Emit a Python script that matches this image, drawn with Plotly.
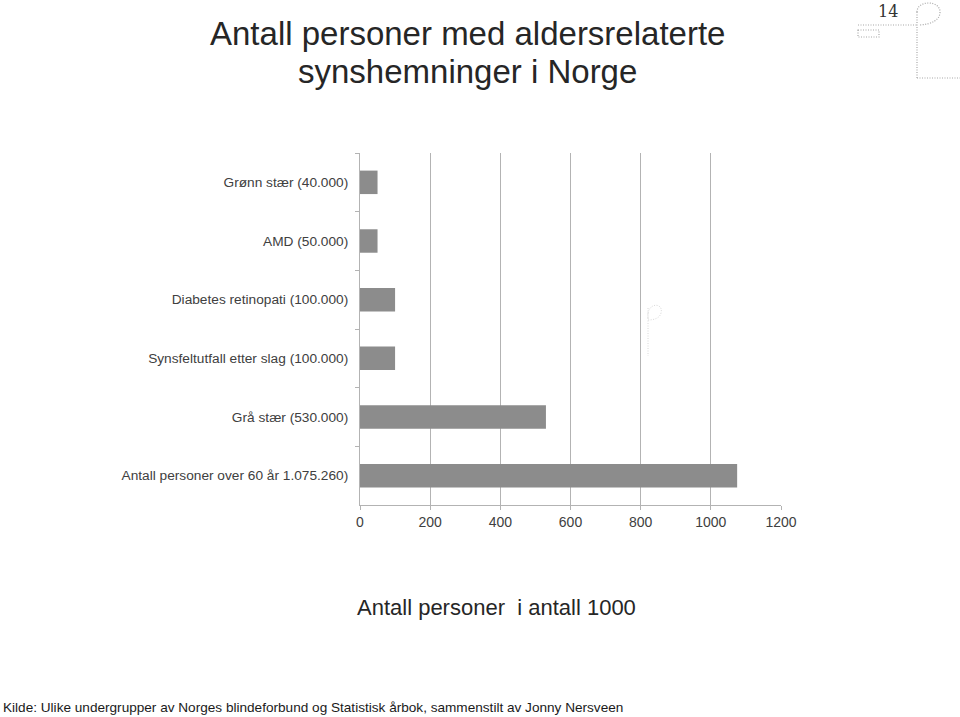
import plotly.graph_objects as go

# data (antall personer, i 1000)
kategorier = [
    "Grønn stær (40.000)",
    "AMD (50.000)",
    "Diabetes retinopati (100.000)",
    "Synsfeltutfall etter slag (100.000)",
    "Grå stær (530.000)",
    "Antall personer over 60 år 1.075.260)",
]
verdier = [50, 50, 100, 100, 530, 1075]
x_ticks = [0, 200, 400, 600, 800, 1000, 1200]

W, H = 960, 717
ML, MR, MT, MB = 360, 179, 153, 212
PW, PH = W - ML - MR, H - MT - MB


def fx(px):
    return (px - ML) / PW


def fy(py):
    return (H - MB - py) / PH


fig = go.Figure()
fig.add_trace(go.Bar(
    x=verdier, y=kategorier, orientation="h",
    marker=dict(color="#8c8c8c", line=dict(width=0)),
    hoverinfo="x+y",
))

grey = "#404040"
fig.update_layout(
    width=W, height=H,
    margin=dict(l=ML, r=MR, t=MT, b=MB),
    plot_bgcolor="white", paper_bgcolor="white",
    font=dict(family="Liberation Sans, Arial", color=grey, size=13),
    bargap=0.6,
    showlegend=False,
    xaxis=dict(
        range=[0, 1200], tickvals=x_ticks, showgrid=True,
        gridcolor="#b3b3b3", gridwidth=1,
        showline=True, linecolor="#b3b3b3", ticks="outside",
        ticklen=4, tickcolor="#b3b3b3", zeroline=False,
        tickfont=dict(size=14, color=grey), fixedrange=True,
    ),
    yaxis=dict(
        autorange="reversed", showline=True, linecolor="#b3b3b3",
        ticks="outside", tickson="boundaries", ticklen=4,
        tickcolor="#b3b3b3", showgrid=False, ticklabelstandoff=8,
        tickfont=dict(size=13.7, color=grey), fixedrange=True,
    ),
)

annots = [
    dict(text="Antall personer med aldersrelaterte",
         x=fx(467), y=fy(34), font=dict(size=33, color="#262626")),
    dict(text="synshemninger i Norge",
         x=fx(467), y=fy(72), font=dict(size=33, color="#262626")),
    dict(text="Antall personer  i antall 1000",
         x=fx(496), y=fy(607), font=dict(size=22, color="#262626")),
    dict(text="Kilde: Ulike undergrupper av Norges blindeforbund og Statistisk årbok, sammenstilt av Jonny Nersveen",
         x=fx(313), y=fy(707), font=dict(size=13.6, color="#1a1a1a")),
    dict(text="14", x=fx(888), y=fy(12),
         font=dict(size=16, color="#333333", family="DejaVu Serif, serif")),
]
for a in annots:
    fig.add_annotation(xref="paper", yref="paper", showarrow=False,
                       xanchor="center", yanchor="middle", **a)

# dotted logo decoration
dot = dict(color="#a8a8a8", width=1.2, dash="1px,1.5px")
lines = [
    (858, 25, 917, 25), (917, 12, 917, 78), (917, 78, 960, 78),
]
for x0, y0, x1, y1 in lines:
    fig.add_shape(type="line", xref="paper", yref="paper",
                  x0=fx(x0), y0=fy(y0), x1=fx(x1), y1=fy(y1), line=dot)
fig.add_shape(type="rect", xref="paper", yref="paper",
              x0=fx(858), y0=fy(30), x1=fx(879), y1=fy(37), line=dot)
fig.add_shape(type="path", xref="paper", yref="paper",
              path=(f"M {fx(917)} {fy(12)} C {fx(917)} {fy(0)}, {fx(940)} {fy(0)}, "
                    f"{fx(940)} {fy(12)} C {fx(940)} {fy(20)}, {fx(932)} {fy(24)}, {fx(920)} {fy(25)}"),
              line=dot)
# faint watermark
faint = dict(color="#d8d8d8", width=1, dash="1px,1.5px")
fig.add_shape(type="line", xref="paper", yref="paper",
              x0=fx(648), y0=fy(308), x1=fx(648), y1=fy(356), line=faint)
fig.add_shape(type="path", xref="paper", yref="paper",
              path=(f"M {fx(648)} {fy(318)} C {fx(646)} {fy(302)}, {fx(664)} {fy(302)}, "
                    f"{fx(661)} {fy(313)} C {fx(660)} {fy(318)}, {fx(654)} {fy(320)}, {fx(648)} {fy(320)}"),
              line=faint)

# body has a default 8px margin; drop it so the figure fills the window
fig.write_html("out.html", config={"displayModeBar": False},
               post_script="document.body.style.margin='0';")
